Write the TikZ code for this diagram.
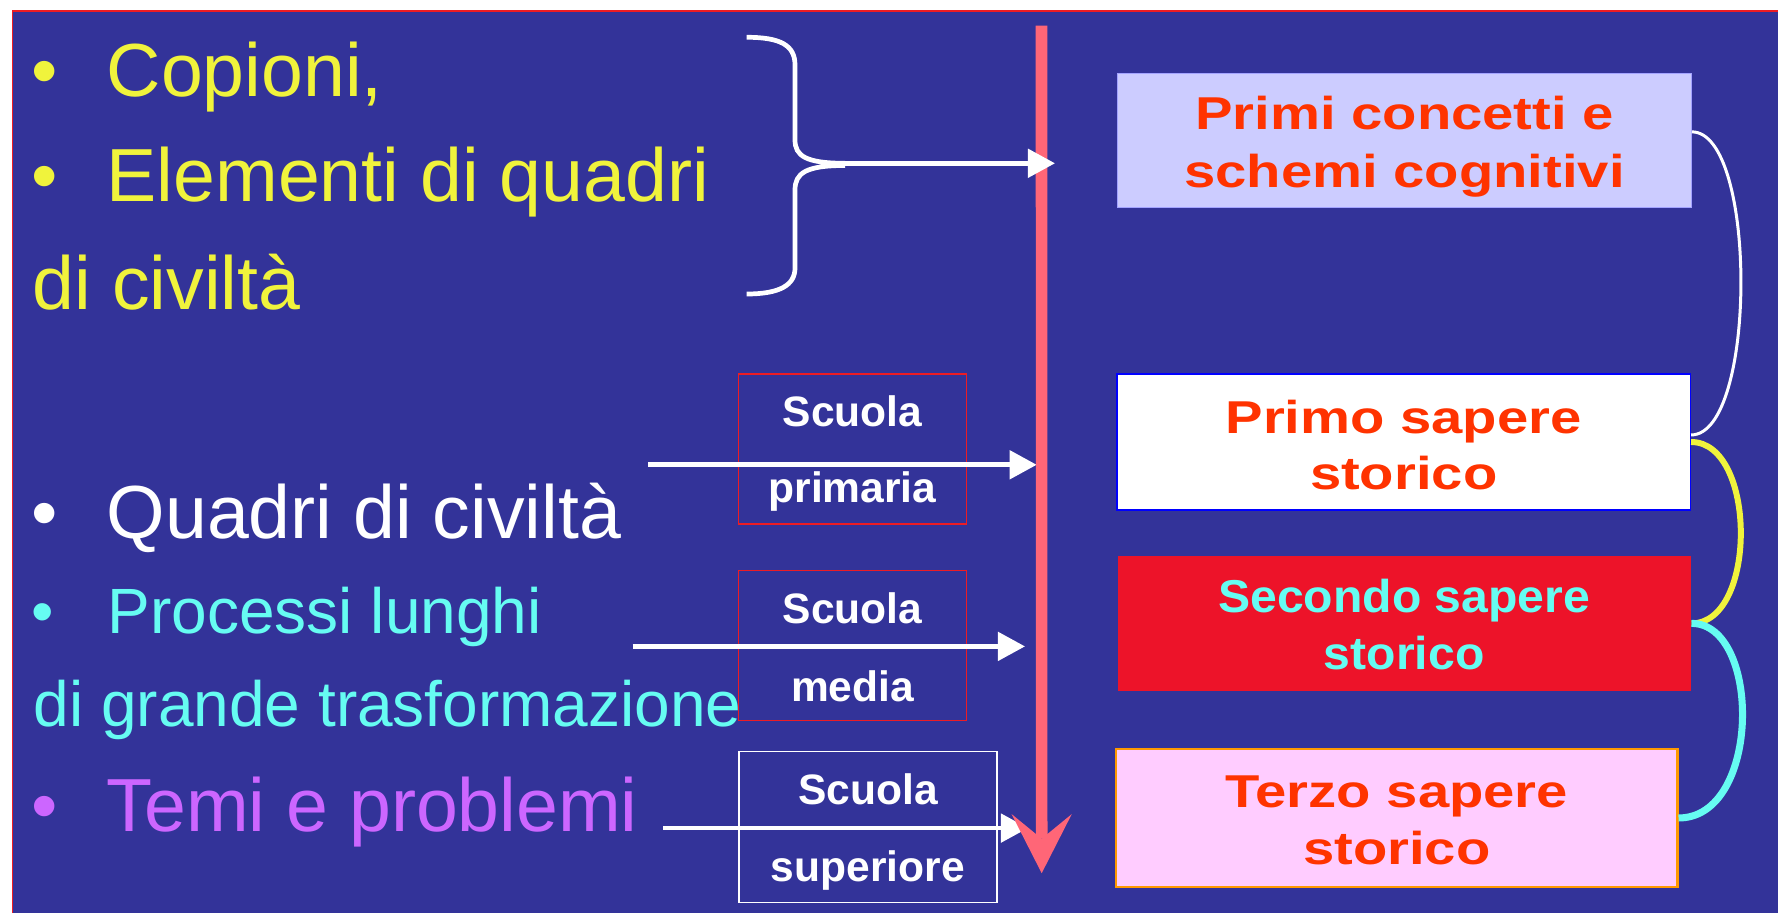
\documentclass[tikz,border=0pt]{standalone}
\usepackage{fontspec}
\setmainfont{Liberation Sans}
\newfontfamily\wide{Liberation Sans}[FakeStretch=1.22]
\newfontfamily\lesswide{Liberation Sans}[FakeStretch=1.045]
\usetikzlibrary{arrows.meta}
\definecolor{bg}{RGB}{51,51,153}
\definecolor{frame}{RGB}{237,28,36}
\definecolor{yel}{RGB}{240,243,60}
\definecolor{cya}{RGB}{102,252,242}
\definecolor{vio}{RGB}{204,102,255}
\definecolor{bar}{RGB}{255,102,119}
\definecolor{ros}{RGB}{255,51,0}
\definecolor{lil}{RGB}{204,204,255}
\definecolor{rd}{RGB}{237,19,41}
\definecolor{pk}{RGB}{255,204,255}
\definecolor{org}{RGB}{255,153,0}
\begin{document}
\begin{tikzpicture}[x=0.01cm, y=-0.01cm,
    big/.style={anchor=base west, inner sep=0pt, font=\fontsize{21.4pt}{25pt}\selectfont},
    mid/.style={anchor=base west, inner sep=0pt, text=cya, font=\fontsize{18.2pt}{21pt}\selectfont},
    scu/.style={draw, line width=0.4pt, inner sep=0pt, minimum width=2.284cm, minimum height=1.499cm},
    scutxt/.style={anchor=base, inner sep=0pt, text=white, font=\bfseries\fontsize{12.1pt}{14pt}\selectfont},
    sap/.style={inner sep=0pt, minimum width=5.73cm, minimum height=1.35cm},
    saptxt/.style={anchor=base, inner sep=0pt, text=ros, font=\wide\bfseries\fontsize{13.1pt}{16pt}\selectfont},
    wh/.style={white, line width=1.34pt, -{Triangle[length=7.7pt, width=8pt]}}]
  \path[use as bounding box] (0,0) rectangle (1778,913);
  \fill[white] (0,0) rectangle (1778,913);
  \fill[frame] (12,10.3) rectangle (1778,913);
  \fill[bg] (13.4,11.7) rectangle (1778,913);

  % left column
  \node[big, text=yel] (d1) at (31,96.7) {•};
  \node[big, text=yel] (copioni) at (106,96.7) {Copioni,};
  \node[big, text=yel] (d2) at (31,202) {•};
  \node[big, text=yel] (elementi) at (106,202) {Elementi di quadri};
  \node[big, text=yel] (civ) at (32,310) {di civiltà};
  \node[big, text=white] (d3) at (31,538.3) {•};
  \node[big, text=white] (quadri) at (106,538.3) {Quadri di civiltà};
  \node[mid] (d4) at (31,634) {•};
  \node[mid] (processi) at (107,634) {Processi lunghi};
  \node[mid] (grande) at (33,726.7) {di grande trasformazione};
  \node[big, text=vio] (d5) at (31,831.7) {•};
  \node[big, text=vio] (temi) at (106,831.7) {Temi e problemi};

  % scuole
  \node[scu, draw=frame] (prim) at (852.5,449) {};
  \node[scutxt] (prim1) at (852.5,427) {Scuola};
  \node[scutxt] (prim2) at (852.5,502.9) {primaria};
  \node[scu, draw=frame] (med) at (852.5,645.6) {};
  \node[scutxt] (med1) at (852.5,623.8) {Scuola};
  \node[scutxt] (med2) at (852.5,701.1) {media};
  \node[scu, draw=white, minimum width=2.577cm, minimum height=1.507cm] (sup) at (867.9,826.9) {};
  \node[scutxt] (sup1) at (867.9,804.4) {Scuola};
  \node[scutxt] (sup2) at (867.9,881.3) {superiore};

  % saperi
  \node[sap, fill=lil, draw=lil!80!blue, line width=0.3pt, minimum height=1.34cm] (primi) at (1404.6,140.3) {};
  \node[saptxt] (primi1) at (1404.6,130) {Primi concetti e};
  \node[saptxt] (primi2) at (1404.6,187.3) {schemi cognitivi};
  \node[sap, fill=white, draw=blue, line width=0.4pt, minimum height=1.36cm] (primo) at (1403.7,442) {};
  \node[saptxt] (primo1) at (1403.7,433.3) {Primo sapere};
  \node[saptxt] (primo2) at (1403.7,489.3) {storico};
  \node[sap, fill=rd] (sec) at (1404.2,623.4) {};
  \node[saptxt, text=cya, font=\lesswide\bfseries\fontsize{13.1pt}{16pt}\selectfont] (sec1) at (1404.2,612.7) {Secondo sapere};
  \node[saptxt, text=cya, font=\lesswide\bfseries\fontsize{13.1pt}{16pt}\selectfont] (sec2) at (1404.2,670) {storico};
  \node[sap, fill=pk, draw=org, line width=0.6pt, minimum width=5.61cm, minimum height=1.374cm] (ter) at (1396.8,818) {};
  \node[saptxt] (ter1) at (1396.8,807.7) {Terzo sapere};
  \node[saptxt] (ter2) at (1396.8,865) {storico};

  \draw[white, line width=0.85pt] ([yshift=2.4pt]primi.east) .. controls +(66,0) and +(66,0) .. ([yshift=2pt]primo.east);
  \draw[yel, line width=1.7pt] (primo.east) .. controls +(66,0) and +(66,0) .. (sec.east);
  \draw[cya, line width=2pt] (sec.east) .. controls +(70,0) and +(83,0) .. (ter.east);

  % frecce
  \coordinate (a2) at (648.3,464.8);
  \coordinate (a2e) at (1036.7,464.8);
  \coordinate (a3) at (632.7,646.4);
  \coordinate (a3e) at (1025,646.4);
  \coordinate (a4) at (663.3,828.1);
  \coordinate (a4e) at (1028,828.1);
  \draw[wh] (a2) -- (a2e);
  \draw[wh] (a3) -- (a3e);
  \draw[wh] (a4) -- (a4e);

  \coordinate (ttop) at (1041.5,25.7);
  \coordinate (tend) at (1041.7,873.2);
  \draw[bar, line width=3.3pt, -{Stealth[length=16.8pt, width=17.1pt, inset=7pt, line width=0pt]}] (ttop) -- (tend);

  \draw[white, line width=1.34pt] (746.7,37.3) .. controls (780,37.3) and (795,45) .. (795,65) -- (795,140)
    .. controls (795,156) and (806,163.3) .. (845,163.3)
    (845,165.5) .. controls (806,165.5) and (795,173) .. (795,190) -- (795,268)
    .. controls (795,285) and (780,294) .. (746.7,294);
  \coordinate (btip) at (845,163.3);
  \coordinate (btipe) at (1055,163.3);
  \draw[wh] (btip) -- (btipe);
\end{tikzpicture}
\end{document}
